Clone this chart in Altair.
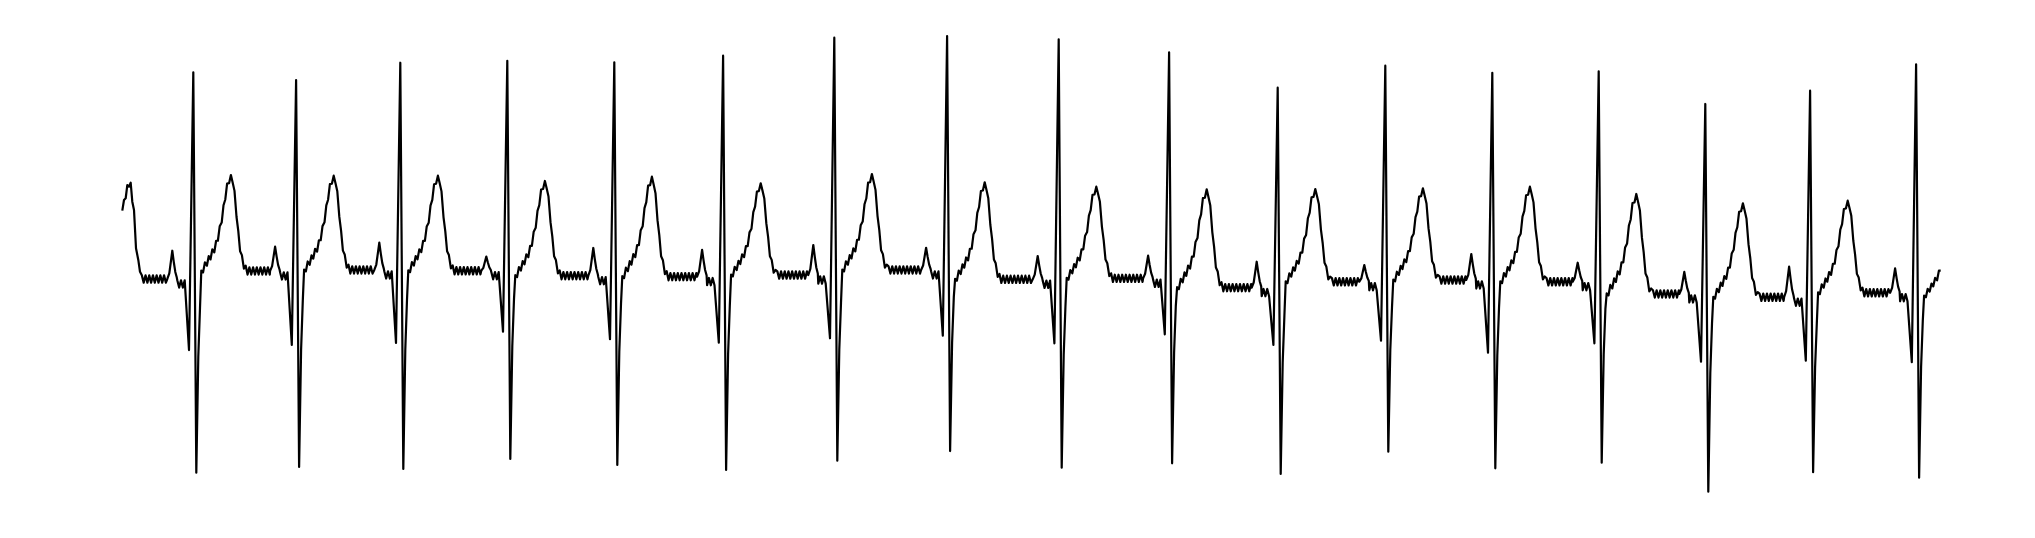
import altair as alt
import pandas as pd

# ---- values (time in s, amplitude in mV) ----
R_TIME = [0.355, 0.869, 1.390, 1.925, 2.460, 3.004, 3.560, 4.124, 4.682,
          5.234, 5.777, 6.315, 6.850, 7.382, 7.915, 8.439, 8.969]
R_MV = [1.870, 1.800, 1.957, 1.975, 1.961, 2.021, 2.185, 2.200, 2.170,
        2.052, 1.730, 1.930, 1.866, 1.879, 1.582, 1.703, 1.943]
S_MV = [-1.770, -1.718, -1.736, -1.645, -1.700, -1.745, -1.661, -1.573, -1.725,
        -1.685, -1.782, -1.579, -1.730, -1.679, -1.943, -1.766, -1.815]
Q_MV = [-0.655, -0.609, -0.591, -0.488, -0.557, -0.588, -0.548, -0.525, -0.594,
        -0.512, -0.609, -0.570, -0.679, -0.594, -0.761, -0.752, -0.766]
T_MV = [0.936, 0.930, 0.930, 0.882, 0.921, 0.861, 0.945, 0.870, 0.830,
        0.806, 0.809, 0.815, 0.830, 0.764, 0.679, 0.703, 0.570]
P_MV = [0.248, 0.285, 0.321, 0.194, 0.273, 0.255, 0.300, 0.275, 0.200,
        0.203, 0.148, 0.118, 0.218, 0.139, 0.055, 0.103, 0.088]
BASE_MV = [-0.009, 0.064, 0.073, 0.066, 0.021, 0.012, 0.027, 0.073, -0.012,
           -0.003, -0.088, -0.034, -0.018, -0.034, -0.145, -0.175, -0.134]
BASE_END_MV = -0.164
END_T = 9.092

# start of the record (tail of a T wave)
LEAD_T = [0.0, 0.0085, 0.017, 0.025, 0.0335, 0.042, 0.050, 0.0585, 0.0685, 0.080, 0.0885]
LEAD_MV = [0.612, 0.709, 0.725, 0.845, 0.830, 0.866, 0.694, 0.618, 0.270, 0.164, 0.057]

# shape of one beat (offsets from the R peak, ms)
P_OFF_MS = [-130, -120, -112.5, -105, -97.5, -90, -82.5]
P_FRAC = [0.0, 0.2, 0.6, 1.0, 0.6, 0.25, 0.05]
PREQ_START_MS = -80
PREQ_END_MS = -35
PREQ_SHIFT_MV = -0.045
Q_OFF_MS = -21.5
S_OFF_MS = 15
REC_OFF_MS = [25, 33.5]
REC_FRAC = [0.40, 0.15]
T_OFF_MS = [40, 49, 58, 68, 77, 86, 95, 105, 114, 123, 132, 142, 151, 160, 169,
            179, 188, 197, 206, 216, 225, 234, 243, 253, 262]
T_FRAC = [0.005, -0.015, 0.09, 0.055, 0.155, 0.12, 0.225, 0.195, 0.315, 0.315,
          0.465, 0.505, 0.685, 0.745, 0.91, 0.915, 1.0, 0.92, 0.835, 0.565,
          0.415, 0.205, 0.165, 0.025, 0.055]
# mains ripple on the isoelectric line
RIPPLE_MV = 0.033
RIPPLE_STEP_S = 0.00925

pts = list(zip(LEAD_T, LEAD_MV))


def ripple(t0, t1, level, sign):
    out = []
    t = t0
    while t < t1 - 1e-9:
        out.append((t, level + sign * RIPPLE_MV))
        sign = -sign
        t += RIPPLE_STEP_S
    return out, sign


cursor = LEAD_T[-1] + RIPPLE_STEP_S
sign = 1
n = len(R_TIME)
for k in range(n):
    r = R_TIME[k]
    b = BASE_MV[k]
    bpost = BASE_MV[k + 1] if k + 1 < n else BASE_END_MV
    seg, sign = ripple(cursor, r + P_OFF_MS[0] / 1000, b, sign)
    pts += seg
    for off, f in zip(P_OFF_MS, P_FRAC):
        pts.append((r + off / 1000, b + f * (P_MV[k] - b)))
    seg, sign = ripple(r + PREQ_START_MS / 1000, r + PREQ_END_MS / 1000 + 1e-6,
                       b + PREQ_SHIFT_MV, sign)
    pts += seg
    pts.append((r + Q_OFF_MS / 1000, Q_MV[k]))
    pts.append((r, R_MV[k]))
    pts.append((r + S_OFF_MS / 1000, S_MV[k]))
    for off, f in zip(REC_OFF_MS, REC_FRAC):
        pts.append((r + off / 1000, b + f * (S_MV[k] - b)))
    for off, f in zip(T_OFF_MS, T_FRAC):
        t = r + off / 1000
        if t > END_T:
            break
        pts.append((t, bpost + f * (T_MV[k] - bpost)))
    cursor = r + T_OFF_MS[-1] / 1000 + RIPPLE_STEP_S

pts = [p for p in pts if p[0] <= END_T + 1e-9]
df = pd.DataFrame(pts, columns=["t", "mv"])

W, H = 2010, 515
chart = (
    alt.Chart(df)
    .mark_line(color="black", strokeWidth=2.2, strokeJoin="round")
    .encode(
        x=alt.X("t:Q", scale=alt.Scale(domain=[-0.5715, 9.4785], nice=False, zero=False), axis=None),
        y=alt.Y("mv:Q", scale=alt.Scale(domain=[-2.2273, 2.4545], nice=False, zero=False), axis=None),
        order="t:Q",
    )
    .properties(width=W, height=H, padding=0, autosize="none")
    .configure_view(stroke="transparent")
)

chart.save("out.html", embed_options={"renderer": "svg", "actions": False})
